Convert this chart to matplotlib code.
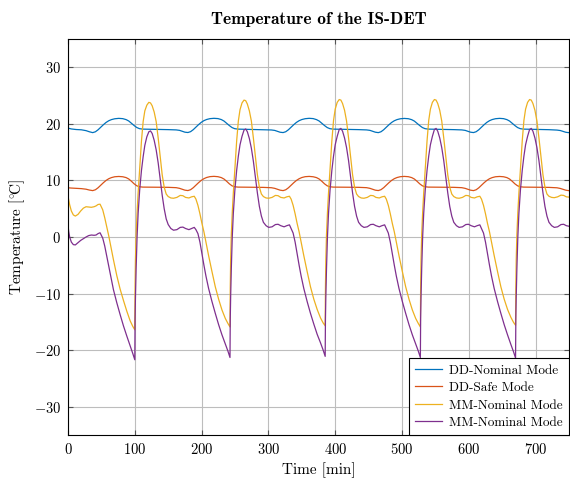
import matplotlib
matplotlib.use("Agg")
from matplotlib import pyplot as plt

# --- data (time in min, temperature in degC) ---
# DD curves share one time axis
t_dd = [0, 5, 12, 20, 27, 32,
        37, 41, 45, 49, 53, 57, 61, 65, 70, 76, 82, 87, 91, 95, 99, 103, 107, 112, 130, 150, 162, 167, 171, 175,
        179.5, 183.5, 187.5, 191.5, 195.5, 199.5, 203.5, 207.5, 212.5, 218.5, 224.5, 229.5, 233.5, 237.5, 241.5, 245.5, 249.5, 254.5, 272.5, 292.5, 304.5, 309.5, 313.5, 317.5,
        322, 326, 330, 334, 338, 342, 346, 350, 355, 361, 367, 372, 376, 380, 384, 388, 392, 397, 415, 435, 447, 452, 456, 460,
        464.5, 468.5, 472.5, 476.5, 480.5, 484.5, 488.5, 492.5, 497.5, 503.5, 509.5, 514.5, 518.5, 522.5, 526.5, 530.5, 534.5, 539.5, 557.5, 577.5, 589.5, 594.5, 598.5, 602.5,
        607, 611, 615, 619, 623, 627, 631, 635, 640, 646, 652, 657, 661, 665, 669, 673, 677, 682, 700, 720, 732, 737, 741, 745, 749, 750]

dd_nominal = [19.25, 19.1, 19.0, 18.95, 18.8, 18.6,
              18.45, 18.6, 18.95, 19.4, 19.85, 20.25, 20.55, 20.75, 20.9, 20.97, 20.92, 20.75, 20.5, 20.1, 19.7, 19.35, 19.15, 19.07, 19.03, 18.98, 18.93, 18.85, 18.7, 18.53,
              18.47, 18.62, 18.97, 19.42, 19.87, 20.27, 20.57, 20.77, 20.92, 20.98, 20.93, 20.76, 20.5, 20.1, 19.7, 19.35, 19.15, 19.07, 19.02, 18.97, 18.92, 18.84, 18.69, 18.52,
              18.46, 18.61, 18.96, 19.41, 19.86, 20.26, 20.56, 20.76, 20.91, 20.98, 20.93, 20.75, 20.5, 20.1, 19.7, 19.35, 19.15, 19.07, 19.03, 18.98, 18.93, 18.85, 18.7, 18.53,
              18.45, 18.6, 18.95, 19.4, 19.85, 20.25, 20.55, 20.75, 20.9, 20.96, 20.91, 20.74, 20.49, 20.1, 19.7, 19.35, 19.15, 19.07, 19.03, 18.98, 18.93, 18.85, 18.7, 18.53,
              18.46, 18.61, 18.96, 19.41, 19.86, 20.26, 20.56, 20.76, 20.91, 20.97, 20.92, 20.75, 20.5, 20.1, 19.7, 19.35, 19.15, 19.07, 19.02, 18.97, 18.9, 18.82, 18.68, 18.52, 18.45, 18.47]

dd_safe = [8.7, 8.65, 8.6, 8.55, 8.45, 8.3,
           8.2, 8.35, 8.7, 9.15, 9.6, 10.0, 10.3, 10.5, 10.65, 10.7, 10.65, 10.5, 10.25, 9.85, 9.4, 9.05, 8.88, 8.82, 8.8, 8.78, 8.72, 8.6, 8.45, 8.28,
           8.21, 8.36, 8.71, 9.16, 9.61, 10.01, 10.31, 10.52, 10.67, 10.72, 10.66, 10.5, 10.25, 9.85, 9.4, 9.05, 8.88, 8.82, 8.8, 8.77, 8.71, 8.6, 8.45, 8.28,
           8.2, 8.35, 8.7, 9.15, 9.6, 10.0, 10.3, 10.51, 10.66, 10.71, 10.65, 10.5, 10.25, 9.85, 9.4, 9.05, 8.88, 8.82, 8.8, 8.78, 8.72, 8.6, 8.45, 8.28,
           8.21, 8.36, 8.71, 9.16, 9.61, 10.01, 10.31, 10.51, 10.66, 10.71, 10.66, 10.5, 10.25, 9.85, 9.4, 9.05, 8.88, 8.82, 8.8, 8.78, 8.72, 8.6, 8.45, 8.28,
           8.2, 8.35, 8.7, 9.15, 9.6, 10.0, 10.3, 10.5, 10.65, 10.7, 10.65, 10.5, 10.25, 9.85, 9.4, 9.05, 8.88, 8.82, 8.8, 8.77, 8.7, 8.58, 8.44, 8.28, 8.2, 8.21]

# MM curves share one time axis
t_mm = [0, 1, 2.5, 5, 8, 11, 15, 19, 23, 27, 31, 35, 39, 42, 45, 48, 52, 55, 58, 61, 64, 68, 73, 78, 83, 88, 93, 97, 100,
        100.4, 101, 102, 103.4, 105, 107.3, 110, 112.5, 115, 118, 121, 123.5, 126, 129, 132, 135, 138, 141, 144, 147, 150, 154, 158, 163, 168, 172, 176, 181, 185, 189,
        191.5, 194.5, 197.5, 200.5, 203.5, 206.5, 210.5, 215.5, 220.5, 225.5, 230.5, 235.5, 239.5, 242.5,
        242.9, 243.5, 244.5, 245.9, 247.5, 249.8, 252.5, 255, 257.5, 260.5, 263.5, 266, 268.5, 271.5, 274.5, 277.5, 280.5, 283.5, 286.5, 289.5, 292.5, 296.5, 300.5, 305.5, 310.5, 314.5, 318.5, 323.5, 327.5, 331.5,
        334, 337, 340, 343, 346, 349, 353, 358, 363, 368, 373, 378, 382, 385,
        385.4, 386, 387, 388.4, 390, 392.3, 395, 397.5, 400, 403, 406, 408.5, 411, 414, 417, 420, 423, 426, 429, 432, 435, 439, 443, 448, 453, 457, 461, 466, 470, 474,
        476.5, 479.5, 482.5, 485.5, 488.5, 491.5, 495.5, 500.5, 505.5, 510.5, 515.5, 520.5, 524.5, 527.5,
        527.9, 528.5, 529.5, 530.9, 532.5, 534.8, 537.5, 540, 542.5, 545.5, 548.5, 551, 553.5, 556.5, 559.5, 562.5, 565.5, 568.5, 571.5, 574.5, 577.5, 581.5, 585.5, 590.5, 595.5, 599.5, 603.5, 608.5, 612.5, 616.5,
        619, 622, 625, 628, 631, 634, 638, 643, 648, 653, 658, 663, 667, 670,
        670.4, 671, 672, 673.4, 675, 677.3, 680, 682.5, 685, 688, 691, 693.5, 696, 699, 702, 705, 708, 711, 714, 717, 720, 724, 728, 733, 738, 742, 746, 750]

mm_nominal_a = [7.2, 6.6, 5.7, 4.6, 3.9, 3.7, 4.0, 4.6, 5.1, 5.35, 5.3, 5.25, 5.35, 5.5, 5.75, 5.8, 4.8, 3.4, 1.8, 0.2, -1.6, -4.0, -6.8, -9.2, -11.2, -13.1, -14.8, -15.8, -16.4,
                -9.0, -4.0, 0.5, 4.3, 7.8, 12.0, 17.0, 20.4, 22.3, 23.3, 23.8, 23.7, 23.2, 22.1, 20.4, 17.5, 14.2, 11.0, 8.8, 7.6, 7.15, 6.9, 6.85, 7.0, 7.35, 7.3, 7.0, 6.9, 7.1, 7.2,
                6.7, 5.6, 4.1, 2.4, 0.9, -0.9, -3.3, -6.1, -8.8, -11.0, -12.9, -14.4, -15.3, -15.9,
                -9.0, -4.0, 0.5, 4.3, 7.8, 12.0, 17.0, 20.5, 22.5, 23.7, 24.2, 24.1, 23.5, 22.3, 20.5, 17.5, 14.2, 11.0, 8.8, 7.6, 7.15, 6.9, 6.85, 7.0, 7.35, 7.3, 7.0, 6.9, 7.1, 7.2,
                6.7, 5.6, 4.1, 2.4, 0.9, -0.9, -3.3, -6.1, -8.8, -11.0, -12.8, -14.3, -15.2, -15.7,
                -9.0, -4.0, 0.5, 4.3, 7.8, 12.0, 17.0, 20.6, 22.6, 23.8, 24.3, 24.2, 23.6, 22.4, 20.5, 17.5, 14.2, 11.0, 8.8, 7.6, 7.15, 6.9, 6.85, 7.0, 7.35, 7.3, 7.0, 6.9, 7.1, 7.2,
                6.7, 5.6, 4.1, 2.4, 0.9, -0.9, -3.3, -6.1, -8.8, -11.0, -12.9, -14.4, -15.3, -15.9,
                -9.0, -4.0, 0.5, 4.3, 7.8, 12.0, 17.0, 20.6, 22.6, 23.8, 24.3, 24.2, 23.6, 22.4, 20.5, 17.5, 14.2, 11.0, 8.8, 7.6, 7.15, 6.9, 6.85, 7.0, 7.35, 7.3, 7.0, 6.9, 7.1, 7.2,
                6.7, 5.6, 4.1, 2.4, 0.9, -0.9, -3.3, -6.1, -8.8, -11.0, -12.8, -14.2, -15.1, -15.6,
                -9.0, -4.0, 0.5, 4.3, 7.8, 12.0, 17.0, 20.6, 22.6, 23.8, 24.3, 24.2, 23.6, 22.4, 20.5, 17.5, 14.2, 11.0, 8.8, 7.6, 7.2, 7.0, 6.95, 7.1, 7.4, 7.35, 7.1, 7.05]

mm_nominal_b = [2.1, 1.0, 0.0, -0.9, -1.35, -1.4, -1.0, -0.6, -0.3, 0.0, 0.25, 0.35, 0.3, 0.35, 0.6, 0.75, -0.2, -1.6, -3.4, -5.3, -7.1, -9.3, -11.6, -13.7, -15.7, -17.5, -19.2, -20.6, -21.7,
                -14.5, -10.5, -5.5, 0.0, 4.2, 8.3, 11.8, 14.2, 16.2, 17.7, 18.6, 18.75, 18.3, 17.1, 15.4, 13.1, 10.3, 7.4, 5.0, 3.2, 2.2, 1.5, 1.2, 1.3, 1.7, 1.75, 1.5, 1.3, 1.5, 1.7,
                1.3, 0.6, -0.9, -3.0, -5.0, -6.9, -9.1, -11.4, -13.5, -15.5, -17.3, -18.9, -20.2, -21.3,
                -14.5, -10.5, -5.5, 0.0, 4.2, 8.3, 11.8, 14.3, 16.3, 17.8, 18.9, 19.1, 18.6, 17.4, 15.7, 13.4, 10.6, 7.8, 5.4, 3.7, 2.6, 2.0, 1.7, 1.8, 2.2, 2.25, 2.0, 1.8, 2.0, 2.15,
                1.5, 0.7, -0.9, -3.0, -5.0, -6.9, -9.1, -11.4, -13.5, -15.4, -17.2, -18.7, -20.0, -21.1,
                -14.5, -10.5, -5.5, 0.0, 4.2, 8.3, 11.8, 14.3, 16.3, 17.8, 19.0, 19.2, 18.7, 17.5, 15.8, 13.5, 10.7, 7.8, 5.4, 3.7, 2.6, 2.0, 1.7, 1.8, 2.2, 2.25, 2.0, 1.8, 2.0, 2.15,
                1.5, 0.7, -0.9, -3.0, -5.0, -6.9, -9.1, -11.4, -13.5, -15.5, -17.3, -18.9, -20.2, -21.3,
                -14.5, -10.5, -5.5, 0.0, 4.2, 8.3, 11.8, 14.3, 16.3, 17.8, 19.0, 19.2, 18.7, 17.5, 15.8, 13.5, 10.7, 7.8, 5.4, 3.7, 2.6, 2.0, 1.7, 1.8, 2.2, 2.25, 2.0, 1.8, 2.0, 2.15,
                1.5, 0.7, -0.9, -3.0, -5.0, -6.9, -9.1, -11.4, -13.5, -15.5, -17.3, -19.0, -20.3, -21.4,
                -14.5, -10.5, -5.5, 0.0, 4.2, 8.3, 11.8, 14.3, 16.3, 17.8, 19.0, 19.2, 18.7, 17.5, 15.8, 13.5, 10.7, 7.8, 5.4, 3.7, 2.6, 2.0, 1.7, 1.8, 2.2, 2.25, 2.0, 1.9]

labels = ["DD-Nominal Mode", "DD-Safe Mode", "MM-Nominal Mode", "MM-Nominal Mode"]
colors = ["#0072BD", "#D95319", "#EDB120", "#7E2F8E"]

plt.rcParams["font.family"] = "cmr10"
plt.rcParams["mathtext.fontset"] = "cm"
plt.rcParams["axes.formatter.use_mathtext"] = True
plt.rcParams["font.size"] = 10.5

fig = plt.figure(figsize=(5.7, 4.79), dpi=100)
ax = fig.add_axes([68 / 570, 1 - 435 / 479, 501 / 570, 396 / 479])

series = [(t_dd, dd_nominal), (t_dd, dd_safe), (t_mm, mm_nominal_a), (t_mm, mm_nominal_b)]
for (x, y), lab, c in zip(series, labels, colors):
    ax.plot(x, y, color=c, lw=0.9, label=lab)

ax.set_xlim(0, 750)
ax.set_ylim(-35, 35)
ax.set_xticks(range(0, 701, 100))
ax.set_yticks(range(-30, 31, 10))
ax.grid(True, color="#bdbdbd", lw=0.8)
ax.set_axisbelow(True)
ax.tick_params(direction="in", top=True, right=True, length=3.5, width=0.8,
               color="#555555", pad=5, labelsize=10.5)
for s in ax.spines.values():
    s.set_linewidth(0.8)

ax.set_xlabel("Time [min]", fontsize=11, labelpad=4)
ax.set_ylabel(r"Temperature [$^{\circ}\!$C]", fontsize=11, labelpad=5)
ax.set_title("Temperature of the IS-DET", fontfamily="cmb10", fontsize=12.5, pad=11)

leg = ax.legend(loc="lower right", fancybox=False, framealpha=1, edgecolor="black",
                handlelength=2.0, labelspacing=0.4, borderaxespad=0.0, borderpad=0.45,
                handletextpad=0.6, fontsize=9.5)
leg.get_frame().set_linewidth(0.8)

fig.savefig("out.png", dpi=100)
